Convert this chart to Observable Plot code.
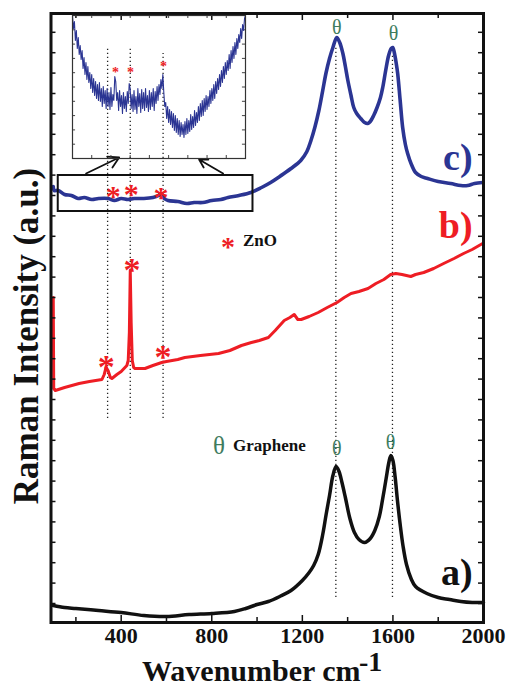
<!DOCTYPE html>
<html><head><meta charset="utf-8">
<script src="https://cdn.jsdelivr.net/npm/d3@7"></script>
<script src="https://cdn.jsdelivr.net/npm/@observablehq/plot@0.6"></script>
<style>
html,body{margin:0;padding:0;background:#fff;}
#wrap{position:relative;width:506px;height:687px;overflow:hidden;background:#fff;}
#inset{position:absolute;left:71px;top:14px;}
</style></head><body>
<div id="wrap"><div id="main"></div><div id="inset"></div></div>
<script>
// ---- data (wavenumber cm-1, intensity a.u.) ----
const specA = [[100,17],[150,15],[200,14],[300,12],[400,10],[500,7],[600,6],[700,8],[800,9],[900,11],[950,14],[1000,18],[1050,21],[1100,26],[1150,32],[1200,42],[1230,50],[1250,57],[1270,68],[1290,88],[1305,108],[1320,127],[1335,147],[1349,156],[1362,151],[1375,140],[1390,125],[1410,104],[1430,90],[1450,83],[1475,80],[1500,84],[1520,92],[1540,106],[1555,124],[1570,144],[1582,160],[1591,167],[1600,162],[1610,145],[1620,122],[1632,98],[1645,76],[1660,58],[1680,44],[1700,36],[1750,29],[1800,25],[1850,23],[1900,21],[1950,20],[2000,20]];
const specB = [[100,325],[102,234],[109,232],[150,235],[214,239],[260,241],[315,243],[325,248],[333,255],[342,252],[352,245],[359,244],[370,246],[381,248],[400,251],[425,257],[431,262],[436,290],[440,352],[444,300],[449,262],[455,255],[461,254],[505,254],[540,257],[579,260],[600,261],[650,263],[681,265],[750,267],[830,269],[880,272],[931,277],[975,280],[1010,282],[1050,285],[1080,292],[1120,302],[1145,305],[1164,308],[1180,303],[1195,303],[1230,306],[1270,310],[1310,315],[1353,320],[1385,325],[1415,329],[1450,331],[1490,334],[1525,339],[1560,343],[1590,348],[1613,349],[1640,348],[1679,346],[1700,348],[1736,350],[1780,354],[1824,359],[1870,364],[1912,369],[1950,373],[1996,379]];
const specC = [[100,436],[104,432],[122,432],[150,428],[180,427],[210,424],[237,425],[270,423],[300,424],[343,424],[370,422],[400,424],[430,423],[457,424],[500,424],[540,425],[565,427],[576,429],[590,424],[607,422],[650,421],[690,419],[722,420],[760,420],[800,422],[840,423],[872,425],[920,427],[973,430],[1020,435],[1060,440],[1100,446],[1119,449],[1150,454],[1193,462],[1220,471],[1238,482],[1255,495],[1273,512],[1290,532],[1304,549],[1320,564],[1335,575],[1352,585],[1365,580],[1379,569],[1390,556],[1401,542],[1415,527],[1427,515],[1440,509],[1458,504],[1475,500],[1489,499],[1500,501],[1515,507],[1530,515],[1545,525],[1555,535],[1568,552],[1581,567],[1592,574],[1599,575],[1606,570],[1614,560],[1621,549],[1632,522],[1643,495],[1655,478],[1665,469],[1680,459],[1700,450],[1725,446],[1753,444],[1800,441],[1855,439],[1900,437],[1930,437],[1960,439],[1996,440]];
// inset: magnified spectrum c) between 100 and 1000 cm-1 (noisy trace)
const insetWn = d3.range(100, 1001, 5);
const insetInt = [143,130,137,118,128,110,121,104,113,99,108,90,101,84,96,79,92,76,86,70,84,66,80,63,77,60,74,58,76,57,70,52,72,55,68,50,70,52,66,49,71,52,64,58,82,77,58,66,48,68,52,63,45,66,50,62,47,67,55,75,70,50,64,47,68,49,62,45,70,52,65,46,69,50,66,48,70,51,63,47,68,49,66,52,70,48,67,55,72,58,74,64,79,70,84,66,52,56,40,52,36,49,34,47,31,45,28,43,26,40,24,38,22,36,24,34,21,37,24,40,25,38,27,44,29,42,31,48,33,46,36,52,38,55,42,58,43,60,47,63,49,62,52,68,55,70,58,74,60,77,65,80,69,84,72,88,76,92,80,96,84,98,88,104,90,108,96,112,100,116,104,120,110,124,116,130,120,134,128,140,143];
const insetSpec = insetWn.map((w, i) => [w, insetInt[i]]);

const xTickLabels = [400, 800, 1200, 1600, 2000];
const xMajor = [400, 800, 1200, 1600];
const xMinor = [200, 600, 1000, 1400, 1800];
const yTicks = d3.range(19, 600, 20.4);
const insetXTicks = [200, 300, 400, 500, 600, 700, 800, 900];
const insetYTicks = d3.range(14.3, 143, 14.3);

const znoLines = [{x: 340, y1: 204, y2: 575}, {x: 440, y1: 204, y2: 575}, {x: 585, y1: 204, y2: 569}];
const grapheneLines = [{x: 1348, y1: 25, y2: 575}, {x: 1598, y1: 25, y2: 569}];
const zoomBox = [{x1: 122, x2: 982, y1: 411, y2: 447}];
const zoomArrows = [{x1: 245, y1: 449, x2: 391, y2: 465}, {x1: 850, y1: 449, x2: 744, y2: 463}];

const curveLabels = [{x: 1952, y: 50, text: "a)", series: "a"}, {x: 1952, y: 397, text: "b)", series: "b"}, {x: 1952, y: 465, text: "c)", series: "c"}];
const znoStarsB = [{x: 334, y: 264}, {x: 448, y: 361}, {x: 585, y: 274}];
const znoStarsC = [{x: 365, y: 434}, {x: 444, y: 436}, {x: 576, y: 433}];
const insetStars = [{x: 324, y: 89}, {x: 402, y: 89}, {x: 573, y: 95}];
const thetaMarks = [{x: 1352, y: 595}, {x: 1603, y: 589}, {x: 1352, y: 174}, {x: 1590, y: 180}];
const legendZnO = [{x: 872, y: 382, sym: "*", text: "ZnO", tx: 938}];
const legendGraphene = [{x: 832, y: 177, sym: "θ", text: "Graphene", tx: 894}];

// ---- styles ----
const serif = "'Liberation Serif','Times New Roman',serif";
const blue = "#2b3593", red = "#ee1d24", green = "#3e7c5e", ink = "#111";
const T = (o) => Object.assign({fontFamily: serif}, o);

const main = Plot.plot({
  width: 506, height: 687,
  marginLeft: 50.5, marginRight: 23, marginTop: 13, marginBottom: 65,
  x: {domain: [90, 2000], axis: null},
  y: {domain: [0, 609], axis: null},
  style: {background: "white", overflow: "visible"},
  marks: [
    Plot.ruleX(znoLines, {x: "x", y1: "y1", y2: "y2", stroke: "#222", strokeWidth: 1.3, strokeDasharray: "1.3,2.7"}),
    Plot.ruleX(grapheneLines, {x: "x", y1: "y1", y2: "y2", stroke: "#222", strokeWidth: 1.3, strokeDasharray: "1.3,2.7"}),
    Plot.line(specA, {x: d => d[0], y: d => d[1], stroke: ink, strokeWidth: 3.5, curve: "catmull-rom"}),
    Plot.line(specB, {x: d => d[0], y: d => d[1], stroke: red, strokeWidth: 3}),
    Plot.line(specC, {x: d => d[0], y: d => d[1], stroke: blue, strokeWidth: 3.6, curve: "catmull-rom"}),
    Plot.rect(zoomBox, {x1: "x1", x2: "x2", y1: "y1", y2: "y2", fill: "none", stroke: ink, strokeWidth: 2}),
    Plot.arrow(zoomArrows, {x1: "x1", y1: "y1", x2: "x2", y2: "y2", stroke: ink, strokeWidth: 1.8, headLength: 10}),
    // ticks (inward)
    Plot.ruleX(xMajor, {x: d => d, y1: 0, y2: 7, stroke: ink, strokeWidth: 1.5}),
    Plot.ruleX(xMinor, {x: d => d, y1: 0, y2: 5, stroke: ink, strokeWidth: 1.5}),
    Plot.ruleX(xMajor, {x: d => d, y1: 602, y2: 609, stroke: ink, strokeWidth: 1.5}),
    Plot.ruleX(xMinor, {x: d => d, y1: 604, y2: 609, stroke: ink, strokeWidth: 1.5}),
    Plot.ruleY(yTicks, {y: d => d, x1: 90, x2: 112, stroke: ink, strokeWidth: 1.5}),
    Plot.ruleY(yTicks, {y: d => d, x1: 1978, x2: 2000, stroke: ink, strokeWidth: 1.5}),
    Plot.frame({stroke: ink, strokeWidth: 3}),
    // tick labels & titles
    Plot.text(xTickLabels, T({x: d => d, text: d => String(d), frameAnchor: "bottom", dy: 20, fontSize: 22, fontWeight: "bold", fill: ink})),
    Plot.text(["Raman Intensity (a.u.)"], T({text: d => d, frameAnchor: "left", textAnchor: "middle", rotate: -90, dx: -24, dy: 18, fontSize: 35, fontWeight: "bold", fill: ink})),
    Plot.text(["Wavenumber cm"], T({text: d => d, frameAnchor: "bottom-left", textAnchor: "start", lineAnchor: "bottom", dx: 91, dy: 58, fontSize: 30, fontWeight: "bold", fill: ink})),
    Plot.text(["-1"], T({text: d => d, frameAnchor: "bottom-left", textAnchor: "start", lineAnchor: "bottom", dx: 308, dy: 48, fontSize: 28, fontWeight: "bold", fill: ink})),
    // series labels
    Plot.text(curveLabels.filter(d => d.series === "a"), T({x: "x", y: "y", text: "text", textAnchor: "end", fontSize: 38, fontWeight: "bold", fill: ink})),
    Plot.text(curveLabels.filter(d => d.series === "b"), T({x: "x", y: "y", text: "text", textAnchor: "end", fontSize: 38, fontWeight: "bold", fill: red})),
    Plot.text(curveLabels.filter(d => d.series === "c"), T({x: "x", y: "y", text: "text", textAnchor: "end", fontSize: 38, fontWeight: "bold", fill: blue})),
    // markers
    Plot.text(znoStarsB, T({x: "x", y: "y", text: () => "*", fontSize: 34, fontWeight: "bold", fill: red, dy: 9})),
    Plot.text(znoStarsC, T({x: "x", y: "y", text: () => "*", fontSize: 30, fontWeight: "bold", fill: red, dy: 8})),
    Plot.text(thetaMarks, T({x: "x", y: "y", text: () => "θ", fontSize: 20, fill: green})),
    // legend
    Plot.text(legendZnO, T({x: "x", y: "y", text: "sym", fontSize: 28, fontWeight: "bold", fill: red, dy: 7})),
    Plot.text(legendZnO, T({x: "tx", y: "y", text: "text", textAnchor: "start", fontSize: 17, fontWeight: "bold", fill: ink})),
    Plot.text(legendGraphene, T({x: "x", y: "y", text: "sym", fontSize: 25, fill: green})),
    Plot.text(legendGraphene, T({x: "tx", y: "y", text: "text", textAnchor: "start", fontSize: 17, fontWeight: "bold", fill: ink}))
  ]
});
document.getElementById("main").appendChild(main);

const inset = Plot.plot({
  width: 175, height: 145, margin: 1,
  x: {domain: [100, 1000], axis: null},
  y: {domain: [0, 143], axis: null},
  style: {background: "transparent", overflow: "visible"},
  marks: [
    Plot.ruleX(insetXTicks, {x: d => d, y1: 0, y2: 3, stroke: "#444", strokeWidth: 1}),
    Plot.ruleX(insetXTicks, {x: d => d, y1: 140, y2: 143, stroke: "#444", strokeWidth: 1}),
    Plot.ruleY(insetYTicks, {y: d => d, x1: 100, x2: 116, stroke: "#444", strokeWidth: 1}),
    Plot.ruleY(insetYTicks, {y: d => d, x1: 984, x2: 1000, stroke: "#444", strokeWidth: 1}),
    Plot.line(insetSpec, {x: d => d[0], y: d => d[1], stroke: blue, strokeWidth: 1.1}),
    Plot.frame({stroke: "#333", strokeWidth: 1.2}),
    Plot.text(insetStars, T({x: "x", y: "y", text: () => "*", fontSize: 14, fontWeight: "bold", fill: red, dy: 3}))
  ]
});
document.getElementById("inset").appendChild(inset);
</script>
</body></html>
